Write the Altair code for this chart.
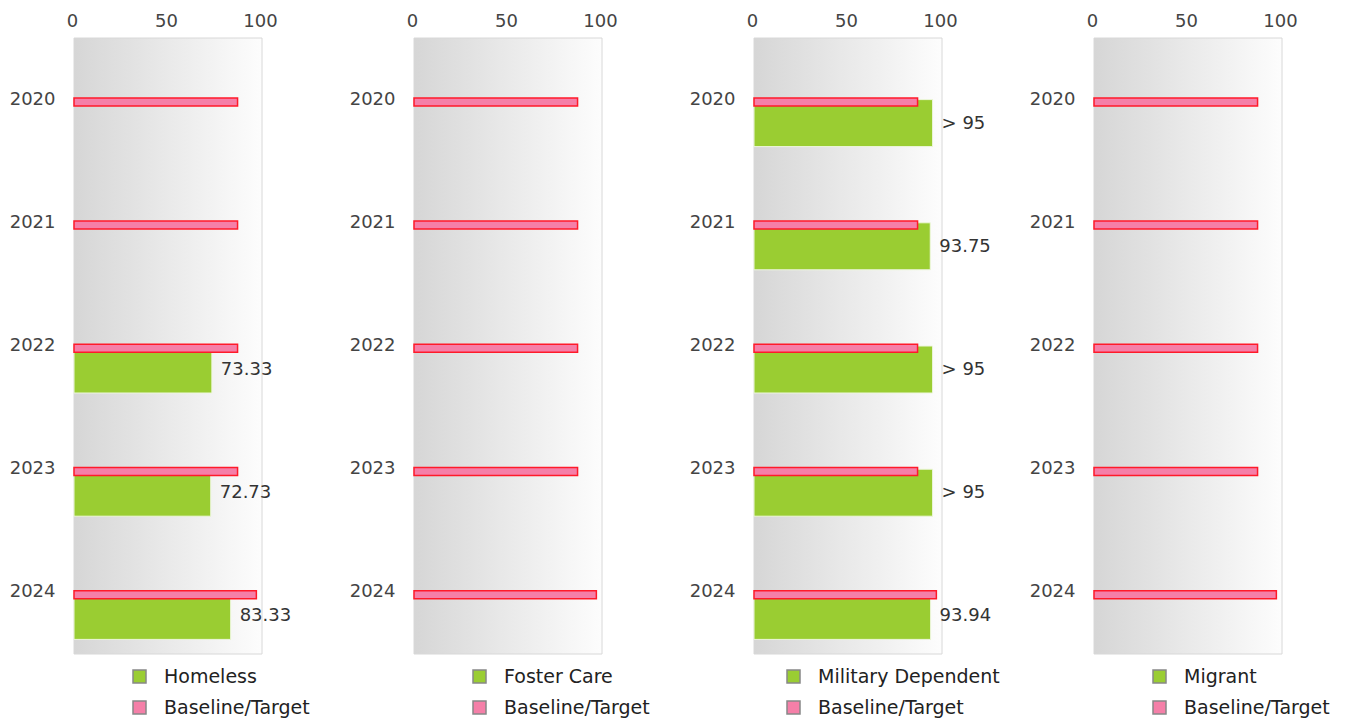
import altair as alt
import pandas as pd

years = ["2020", "2021", "2022", "2023", "2024"]
groups = ["Homeless", "Foster Care", "Military Dependent", "Migrant"]
baseline = [87, 87, 87, 87, 97]
values = {
    "Homeless": [None, None, 73.33, 72.73, 83.33],
    "Foster Care": [None, None, None, None, None],
    "Military Dependent": [95, 93.75, 95, 95, 93.94],
    "Migrant": [None, None, None, None, None],
}
labels = {
    "Homeless": ["", "", "73.33", "72.73", "83.33"],
    "Foster Care": ["", "", "", "", ""],
    "Military Dependent": ["> 95", "93.75", "> 95", "> 95", "93.94"],
    "Migrant": ["", "", "", "", ""],
}
legend_x = {"Homeless": 56, "Foster Care": 56, "Military Dependent": 30, "Migrant": 56}

GREEN = "#9ACD32"
PINK = "#F57FA8"
W, H = 188, 616
EXTRA = 60  # reserved room right of each plot (legend / value labels)

grad = alt.LinearGradient(gradient="linear", x1=0, x2=1, y1=0, y2=0,
                          stops=[alt.GradientStop(offset=0, color="#d6d6d6"),
                                 alt.GradientStop(offset=1, color="#fdfdfd")])


def panel(g):
    base_df = pd.DataFrame({"year": years, "v": baseline})
    val_df = pd.DataFrame({"year": years, "v": values[g], "lab": labels[g],
                           "series": [g] * len(years)})
    xenc = alt.X("v:Q", scale=alt.Scale(domain=[0, 100], nice=False),
                 axis=alt.Axis(orient="top", values=[0, 50, 100], title=None, grid=False,
                               ticks=False, domain=False, labelFontSize=18,
                               labelColor="#444", labelPadding=8, labelFlush=False,
                               labelOffset=-2))
    yenc = alt.Y("year:N", sort=years,
                 scale=alt.Scale(domain=years, paddingInner=0, paddingOuter=0),
                 axis=alt.Axis(title=None, ticks=False, domain=False, labelFontSize=18,
                               labelColor="#444", labelPadding=19))
    color = alt.Color("series:N",
                      scale=alt.Scale(domain=[g, "Baseline/Target"], range=[GREEN, PINK]),
                      legend=alt.Legend(title=None, orient="none", legendX=legend_x[g],
                                        legendY=629, symbolType="square", symbolSize=169,
                                        symbolStrokeColor="#888888", symbolStrokeWidth=1.5,
                                        labelFontSize=19, labelColor="#222", labelLimit=400,
                                        labelOffset=15, rowPadding=11, padding=0))
    bg = alt.Chart(pd.DataFrame({"k": [0]})).mark_rect(
        fill=grad, stroke="#d8d8d8", strokeWidth=1
    ).encode(x=alt.value(0), x2=alt.value(W), y=alt.value(0), y2=alt.value(H))
    spacer = alt.Chart(pd.DataFrame({"k": [0]})).mark_rect(opacity=0).encode(
        x=alt.value(W), x2=alt.value(W + EXTRA), y=alt.value(0), y2=alt.value(1))
    green = alt.Chart(val_df).mark_bar(height=47, yOffset=23.5, stroke="#eef7dd",
                                       strokeWidth=1).encode(x=xenc, y=yenc, color=color)
    pink = alt.Chart(base_df).mark_bar(height=8, yOffset=2.3, fill=PINK, stroke="#FF1A2A",
                                       strokeWidth=1.5).encode(x=xenc, y=yenc)
    text = alt.Chart(val_df).transform_filter("datum.lab != ''").mark_text(
        align="left", baseline="middle", dx=9, yOffset=24, fontSize=18, color="#333"
    ).encode(x="v:Q", y=alt.Y("year:N", sort=years), text="lab:N")
    return alt.layer(bg, spacer, green, pink, text).properties(width=W, height=H)


chart = alt.concat(*[panel(g) for g in groups], columns=4, spacing=27).resolve_scale(
    color="independent", x="independent", y="independent"
).properties(
    padding={"left": 1, "top": 4, "right": 0, "bottom": 0}
).configure(font="DejaVu Sans").configure_view(stroke=None)

chart.save("out.html", embed_options={"renderer": "svg", "actions": False})
